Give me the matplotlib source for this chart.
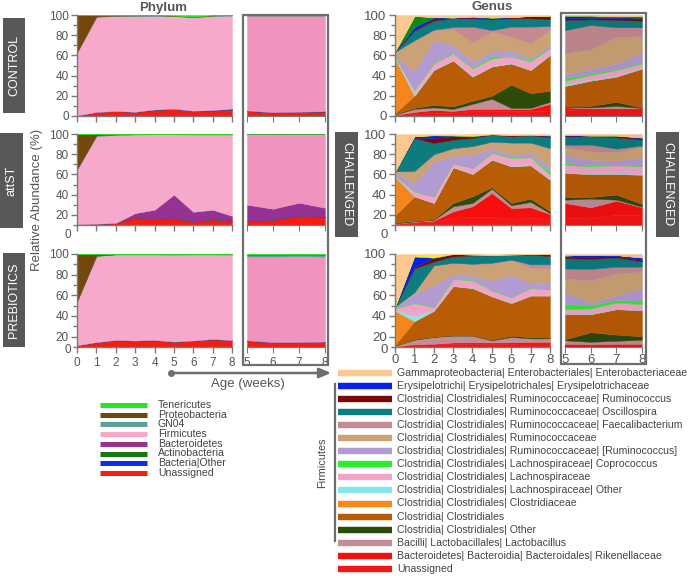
import numpy as np
import matplotlib.pyplot as plt
from matplotlib.patches import Rectangle
from matplotlib.colors import to_rgb

plt.rcParams['font.family'] = ['Liberation Sans', 'DejaVu Sans']

W, H = 696, 576

weeks = [0, 1, 2, 3, 4, 5, 6, 7, 8]
weeks_late = [5, 6, 7, 8]
groups = ['CONTROL', 'attST', 'PREBIOTICS']

# ---------------- Phylum ----------------
# layers bottom -> top; data = cumulative top of each layer, last layer fills up to 100
phylum_names = ['Unassigned', 'Bacteria|Other', 'Actinobacteria', 'Bacteroidetes',
                'Firmicutes', 'GN04', 'Proteobacteria', 'Tenericutes']
phylum_colors = ['#f51d10', '#0a2ef0', '#157a15', '#953394',
                 '#f6a9cb', '#5e9f98', '#74480c', '#22e822']

phy_control = [
    [0.5, 4, 5, 4, 6, 7, 5, 5.5, 6],
    [0.5, 4, 5, 4, 6, 7, 5, 5.5, 6.2],
    [0.5, 4, 5, 4, 6, 7, 5, 5.5, 6.3],
    [0.5, 4, 5, 4.2, 6.5, 7.3, 5.3, 6, 7.5],
    [63, 98, 99, 99, 99, 99, 97.5, 99, 99.3],
    [63, 98.5, 99.3, 99.5, 99.6, 99.3, 98, 99.5, 99.7],
    [100, 99.95, 99.95, 99.95, 99.95, 99.4, 98.2, 99.8, 99.95],
]
phy_control_late = [
    [5, 3.5, 4, 4.5],
    [5.2, 3.6, 4.1, 4.6],
    [5.2, 3.6, 4.1, 4.6],
    [5.5, 3.8, 4.3, 4.8],
    [99, 99, 99, 99],
    [99.5, 99.5, 99.5, 99.5],
    [99.9, 99.9, 99.9, 99.9],
]
phy_attst = [
    [10.3, 11, 11.7, 17.7, 15.7, 16.7, 13.3, 15.7, 14],
    [10.3, 11, 11.7, 17.7, 15.7, 16.7, 13.3, 15.7, 14],
    [10.3, 11, 11.7, 17.7, 15.7, 16.7, 13.3, 15.7, 14],
    [10.5, 11.2, 12, 21.7, 25, 40, 23, 25, 19],
    [65, 98, 99, 99.5, 99.7, 99.7, 99.5, 99.5, 99.5],
    [65, 98.5, 99.5, 99.7, 99.8, 99.8, 99.7, 99.7, 99.7],
    [100, 99.95, 99.95, 99.95, 99.95, 99.95, 99.95, 99.95, 99.95],
]
phy_attst_late = [
    [14, 15, 19, 18],
    [14, 15, 19, 18],
    [14, 15, 19, 18],
    [30, 26, 32, 27],
    [99.3, 99.3, 99.3, 99.3],
    [99.6, 99.6, 99.6, 99.6],
    [99.9, 99.9, 99.9, 99.9],
]
phy_prebio = [
    [11.5, 14.5, 16.5, 16, 16.5, 15, 16, 17.5, 16.5],
    [11.5, 14.5, 16.5, 16, 16.5, 15, 16, 17.5, 16.5],
    [11.5, 14.5, 16.5, 16, 16.5, 15, 16, 17.5, 16.5],
    [11.7, 14.8, 16.8, 16.3, 16.8, 15.3, 16.3, 17.8, 16.8],
    [54, 98, 99.5, 99.5, 99.5, 99.3, 99.5, 99.5, 99.3],
    [54, 98.3, 99.7, 99.8, 99.8, 99.7, 99.8, 99.8, 99.7],
    [100, 99.95, 99.95, 99.95, 99.95, 99.95, 99.95, 99.95, 99.95],
]
phy_prebio_late = [
    [16, 14.5, 14.5, 15],
    [16, 14.5, 14.5, 15],
    [16, 14.5, 14.5, 15],
    [16.5, 14.8, 14.8, 15.3],
    [97.5, 97.5, 97.8, 97.5],
    [99.3, 99.3, 99.5, 99.3],
    [99.6, 99.6, 99.7, 99.6],
]

# ---------------- Genus ----------------
genus_names = [
    'Unassigned',
    'Bacteroidetes| Bacteroidia| Bacteroidales| Rikenellaceae',
    'Bacilli| Lactobacillales| Lactobacillus',
    'Clostridia| Clostridiales| Other',
    'Clostridia| Clostridiales',
    'Clostridia| Clostridiales| Clostridiaceae',
    'Clostridia| Clostridiales| Lachnospiraceae| Other',
    'Clostridia| Clostridiales| Lachnospiraceae',
    'Clostridia| Clostridiales| Lachnospiraceae| Coprococcus',
    'Clostridia| Clostridiales| Ruminococcaceae| [Ruminococcus]',
    'Clostridia| Clostridiales| Ruminococcaceae',
    'Clostridia| Clostridiales| Ruminococcaceae| Faecalibacterium',
    'Clostridia| Clostridiales| Ruminococcaceae| Oscillospira',
    'Clostridia| Clostridiales| Ruminococcaceae| Ruminococcus',
    'Erysipelotrichi| Erysipelotrichales| Erysipelotrichaceae',
    None,  # unlisted (green)
    None,  # unlisted (yellow)
    'Gammaproteobacteria| Enterobacteriales| Enterobacteriaceae',
]
genus_colors = ['#f51515', '#f5100e', '#c28c98', '#2c4a08', '#b85c06', '#f5861a',
                '#85e6ee', '#f3a3c8', '#2aef2a', '#b29ad2', '#cba276', '#c48a90',
                '#0c7c7e', '#7a0808', '#0520ee', '#0f8a1a', '#f2ef1c', '#fcc890']

gen_control = [
    [0.5, 2, 3, 3, 5, 5, 5, 5, 5],
    [1, 4, 6, 5, 7, 7, 7, 7, 12],
    [1.5, 7, 8.5, 7, 12, 17, 8, 8, 14],
    [2, 8, 11, 9.5, 15, 20, 31, 22.5, 25],
    [3, 20, 45.5, 55, 39, 49, 52, 45.5, 60.4],
    [57, 20, 45.5, 55, 39, 49, 52, 45.5, 60.4],
    [58, 22, 46, 55.5, 40, 49.5, 52.5, 46, 61],
    [59, 26, 52, 62, 47, 57, 59, 54, 67],
    [59, 26.5, 53, 62.5, 48, 59, 59.5, 55.5, 67.5],
    [60, 44, 75, 70, 54, 63.7, 64.7, 57, 70],
    [63, 74, 85, 86, 73, 83.5, 78.5, 72, 85],
    [63.5, 75, 85.5, 88, 88.5, 85, 88.5, 88.5, 89],
    [64, 84.5, 94.5, 96.7, 96.7, 95.7, 96.7, 96.7, 95.7],
    [64, 85, 96.5, 97.3, 97.5, 96.5, 97.5, 99, 99],
    [64, 88, 97.5, 97.5, 98, 97, 98, 99, 99],
    [64, 99, 98, 97.5, 98.5, 97.5, 98, 99, 99.3],
    [64, 99, 98, 97.5, 98.5, 97.5, 98, 99, 99.3],
]
gen_control_late = [
    [6, 5.5, 5.5, 5.5],
    [8.6, 7.5, 7.5, 7.5],
    [9, 8.5, 10, 8],
    [10, 10, 14, 8.3],
    [29.7, 35, 39, 47],
    [29.7, 35, 39, 47],
    [31.7, 36, 40, 48],
    [35, 40.6, 45.5, 52],
    [37.3, 42, 46.5, 53],
    [41.3, 47, 52, 62.7],
    [62, 66, 78.5, 79],
    [85, 90, 87.8, 87.8],
    [95, 95.7, 95, 94.4],
    [96.7, 97, 97, 96.5],
    [99, 98.5, 98, 97],
    [99.5, 99.5, 99, 99],
    [99.5, 99.5, 99, 99],
]
gen_attst = [
    [10.5, 12, 13, 17, 18, 18, 16, 17, 16],
    [11, 13, 14.2, 23.4, 28.4, 41.6, 26.7, 27.4, 20.8],
    [11.5, 13.5, 15, 28.4, 31.7, 45.9, 29.4, 32.7, 21.5],
    [12.5, 14, 15.5, 31.7, 38.3, 47.2, 31.7, 36, 23.4],
    [19.5, 38.3, 31.7, 67, 60.4, 74.6, 68, 69, 54.8],
    [58, 38.3, 31.7, 67, 60.4, 74.6, 68, 69, 54.8],
    [58.5, 38.5, 32, 67.5, 61, 75, 68.5, 69.5, 56],
    [59, 43, 38.3, 71.3, 66.3, 81.2, 76.2, 76.9, 59.7],
    [59, 43.5, 38.5, 71.5, 66.5, 82.2, 77, 77.9, 62.4],
    [62, 51.5, 73, 78, 79.5, 85.5, 79.5, 81.2, 68],
    [63, 63, 79.5, 85.5, 87.8, 92, 91, 91, 85.5],
    [63, 63.5, 80, 86, 88, 92.5, 91.5, 91.5, 86],
    [63, 96, 91, 94.4, 96, 99.3, 97.7, 98.7, 96.7],
    [63, 96.5, 96, 97.7, 97.5, 99.5, 98.5, 99, 98],
    [63, 97.7, 98.7, 98.5, 98, 99.6, 99, 99.3, 98.5],
    [63, 97.7, 98.7, 98.5, 98, 99.6, 99, 99.3, 98.5],
    [63, 98, 99, 99, 99.5, 99.8, 99.3, 99.5, 99],
]
gen_attst_late = [
    [17, 17, 20, 20],
    [31.7, 27.4, 34, 27.4],
    [35, 36, 35, 28],
    [37.6, 37.6, 40, 30.7],
    [61.4, 60.4, 60.4, 59.7],
    [61.4, 60.4, 60.4, 59.7],
    [62, 61, 61, 60.5],
    [69.6, 68, 69, 68],
    [71.3, 69, 69.5, 68.5],
    [79.5, 74.6, 73.6, 77],
    [86.8, 82.8, 82, 87.8],
    [89.4, 89.4, 85.5, 88.5],
    [97.7, 97.7, 96.7, 94.4],
    [98.5, 98, 98, 95.5],
    [99, 98.5, 98.5, 96.5],
    [99, 98.5, 98.5, 96.5],
    [99, 98.5, 98.5, 96.5],
]
gen_prebio = [
    [10.5, 12, 12.5, 13, 13, 13, 13, 13.5, 13.5],
    [10.5, 12.7, 13, 14.4, 14.5, 14.4, 14.5, 15, 15],
    [11, 17, 19.7, 21, 21, 16.4, 19.7, 18.3, 18.3],
    [11, 17.5, 20, 21.5, 21.5, 17, 21, 19.5, 19],
    [12, 35, 45, 69, 67, 59, 52.5, 59.8, 59.8],
    [45, 35, 45, 69, 67, 59, 52.5, 59.8, 59.8],
    [46, 40, 45.5, 69.5, 67.5, 59.5, 53, 60.3, 60.5],
    [47, 52.5, 48.3, 75.6, 74.6, 64.7, 58, 67, 65.7],
    [47.5, 53, 49, 76.2, 75.2, 65.3, 58.5, 67.5, 66.2],
    [48.5, 61.4, 69.7, 80.2, 79, 74.6, 79.5, 72.3, 71.3],
    [49, 63, 88.7, 91, 90, 91, 94.3, 86.7, 86],
    [49, 63, 89, 91.5, 90.5, 91.5, 94.5, 90, 90],
    [49, 86, 92.7, 97.6, 98.6, 98.6, 99.3, 99.3, 98],
    [49, 87.7, 96, 99.9, 99.5, 99.2, 99.5, 99.8, 99.9],
    [49, 97.6, 96.5, 99.9, 99.5, 99.2, 99.5, 99.8, 99.9],
    [49, 97.6, 96.5, 99.9, 99.5, 99.2, 99.5, 99.8, 99.9],
    [49, 98.6, 99.3, 99.9, 99.5, 99.2, 99.5, 99.8, 99.9],
]
gen_prebio_late = [
    [12, 12, 12, 12],
    [13, 12.5, 13, 13],
    [16.5, 15, 16, 17],
    [17.5, 24.3, 22, 20.3],
    [41.7, 41.7, 46.6, 45.6],
    [41.7, 41.7, 46.6, 45.6],
    [42, 42.3, 47, 46],
    [46.6, 47.3, 53, 51.5],
    [51.5, 50, 55.5, 54.8],
    [63, 53, 59.8, 67],
    [76.2, 74.6, 81.2, 82.8],
    [86, 85.5, 87.7, 87.7],
    [96, 95.3, 96.6, 92.7],
    [97.6, 97.3, 98, 94],
    [98.5, 99.3, 99, 96.6],
    [98.5, 99.3, 99, 96.6],
    [98.5, 99.3, 99, 96.6],
]

phylum_data = [(phy_control, phy_control_late), (phy_attst, phy_attst_late),
               (phy_prebio, phy_prebio_late)]
genus_data = [(gen_control, gen_control_late), (gen_attst, gen_attst_late),
              (gen_prebio, gen_prebio_late)]

# ---------------- layout (pixels) ----------------
rows_px = [(15, 116), (134, 235), (254, 347)]
row_ylim = [(0, 100), (0, 100), (10, 100)]
row_base = [0, 10, 10]
AX_COL = '#7a7a7a'
TXT = '#555555'

fig = plt.figure(figsize=(W / 100, H / 100), dpi=100)


def px_axes(x0, x1, y0, y1):
    return fig.add_axes([x0 / W, 1 - y1 / H, (x1 - x0) / W, (y1 - y0) / H])


def darker(c, f=0.95):
    return tuple(v * f for v in to_rgb(c))


def stack(ax, x, tops, colors, base):
    prev = np.full(len(x), base, dtype=float)
    for i, col in enumerate(colors):
        top = np.array(tops[i], dtype=float) if i < len(tops) else np.full(len(x), 100.0)
        ax.fill_between(x, prev, top, color=col, lw=0.3, edgecolor=col)
        prev = top


def style_main(ax, r, fs, xpad):
    ax.set_xlim(0, 8)
    ax.set_ylim(*row_ylim[r])
    for s in ['top', 'right']:
        ax.spines[s].set_visible(False)
    for s in ['left', 'bottom']:
        ax.spines[s].set_color(AX_COL)
        ax.spines[s].set_linewidth(1)
    if r == 0:
        ax.set_yticks([0, 20, 40, 60, 80, 100])
        ax.set_yticks([10, 30, 50, 70, 90], minor=True)
    else:
        # baseline of the stack sits at 10; the "0" label floats near it
        ax.set_yticks([20, 40, 60, 80, 100])
        ax.set_yticks([10, 30, 50, 70, 90], minor=True)
        ax.spines['left'].set_bounds(10, 100)
        zero_y, dy = (0, 0) if r == 1 else (10, -2.5)
        ax.annotate('0', xy=(0, zero_y), xycoords=('axes fraction', 'data'),
                    xytext=(-2 - fs * 0.3, dy), textcoords='offset points',
                    ha='right', va='center', fontsize=fs, color=TXT,
                    annotation_clip=False)
    if r == 1:
        ax.spines['bottom'].set_position(('data', 10))
    ax.set_xticks(weeks)
    if r < 2:
        ax.set_xticklabels([])
    ax.tick_params(which='both', color=AX_COL, labelcolor=TXT, labelsize=fs,
                   length=4, width=1)
    ax.tick_params(axis='y', pad=2)
    ax.tick_params(axis='x', pad=xpad)
    ax.tick_params(which='minor', length=3)


def style_late(ax, r, fs, xpad):
    ax.set_xlim(5, 8)
    ax.set_ylim(*row_ylim[r])
    for s in ['top', 'right', 'left']:
        ax.spines[s].set_visible(False)
    ax.spines['bottom'].set_color(AX_COL)
    if r == 1:
        ax.spines['bottom'].set_position(('data', 10))
    ax.set_yticks([])
    ax.set_xticks(weeks_late)
    if r < 2:
        ax.set_xticklabels([])
    ax.tick_params(color=AX_COL, labelcolor=TXT, labelsize=fs, length=4, pad=xpad)


phy_late_colors = list(phylum_colors)
phy_late_colors[4] = '#f093bf'
gen_late_colors = [darker(c) for c in genus_colors]

for r, (y0, y1) in enumerate(rows_px):
    ax = px_axes(77, 232, y0, y1)
    stack(ax, weeks, phylum_data[r][0], phylum_colors, row_base[r])
    style_main(ax, r, 8.5, 3)

    ax = px_axes(247, 325, y0, y1)
    stack(ax, weeks_late, phylum_data[r][1], phy_late_colors, row_base[r])
    style_late(ax, r, 8.5, 3)

    ax = px_axes(395, 550, y0, y1)
    stack(ax, weeks, genus_data[r][0], genus_colors, row_base[r])
    style_main(ax, r, 9.5, 1)

    ax = px_axes(565, 642, y0, y1)
    stack(ax, weeks_late, genus_data[r][1], gen_late_colors, row_base[r])
    style_late(ax, r, 9.5, 1)

# ---------------- annotations (pixel overlay) ----------------
ov = fig.add_axes([0, 0, 1, 1])
ov.set_xlim(0, W)
ov.set_ylim(H, 0)
ov.axis('off')

ov.text(163, 8, 'Phylum', ha='center', va='center', fontsize=9.5,
        fontweight='bold', color=TXT)
ov.text(492, 7, 'Genus', ha='center', va='center', fontsize=9.5,
        fontweight='bold', color=TXT)
ov.text(37, 200, 'Relative Abundance (%)', ha='center', va='center',
        rotation=90, fontsize=9.5, color=TXT)

# boxes around late panels
for bx0, bx1, by0, by1 in [(243, 328, 15, 365), (561, 646, 13, 364)]:
    ov.add_patch(Rectangle((bx0, by0), bx1 - bx0, by1 - by0, fill=False,
                           edgecolor='#6e6e6e', lw=1.6))

# group labels
label_boxes = [(3, 25, 18, 113), (0, 23, 133, 228), (3, 25, 253, 347)]
for name, (bx0, bx1, by0, by1) in zip(groups, label_boxes):
    ov.add_patch(Rectangle((bx0, by0), bx1 - bx0, by1 - by0, color='#585858', lw=0))
    ov.text((bx0 + bx1) / 2, (by0 + by1) / 2, name, rotation=90, ha='center',
            va='center', color='white', fontsize=9)
for bx0, bx1, by0, by1 in [(335, 358, 132, 237), (656, 679, 132, 237)]:
    ov.add_patch(Rectangle((bx0, by0), bx1 - bx0, by1 - by0, color='#585858', lw=0))
    ov.text((bx0 + bx1) / 2, (by0 + by1) / 2, 'CHALLENGED', rotation=270,
            ha='center', va='center', color='white', fontsize=9)

# age arrow
ov.annotate('', xy=(331, 373), xytext=(171, 373),
            arrowprops=dict(arrowstyle='-|>,head_length=0.7,head_width=0.3',
                            color='#6e6e6e', lw=1.8, shrinkA=0, shrinkB=0))
ov.plot([171], [373], 'o', color='#6e6e6e', ms=4)
ov.text(248, 384, 'Age (weeks)', ha='center', va='center', fontsize=9.5, color=TXT)

# phylum legend (top of stack first)
for i, (name, col) in enumerate(zip(phylum_names[::-1], phylum_colors[::-1])):
    y = 405 + i * 9.7
    ov.plot([100, 147], [y, y], color=col, lw=3.6, solid_capstyle='butt')
    ov.text(158, y, name, va='center', fontsize=7.6, color='#444444')

# genus legend
gen_legend = [(n, c) for n, c in zip(genus_names, genus_colors) if n is not None][::-1]
for i, (name, col) in enumerate(gen_legend):
    y = 373 + i * 13.05
    ov.plot([338, 392], [y, y], color=col, lw=4.6, solid_capstyle='butt')
    ov.text(397, y, name, va='center', fontsize=7.6, color='#444444')

ov.plot([335, 335], [384, 541], color='#6e6e6e', lw=1.6)
ov.text(322, 463, 'Firmicutes', rotation=90, ha='center', va='center',
        fontsize=7.8, color='#444444')

fig.savefig('out.png', dpi=100)
